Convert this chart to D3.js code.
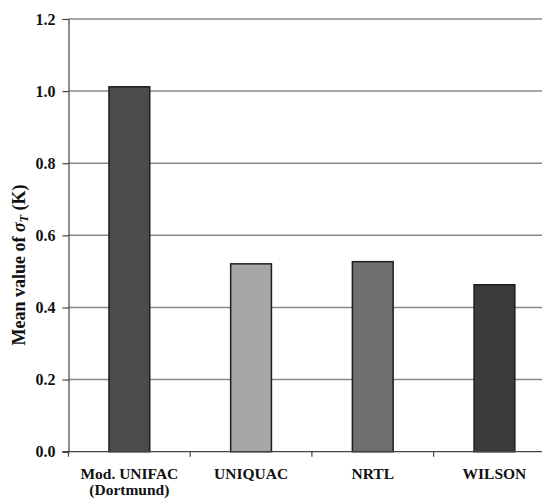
<!DOCTYPE html>
<html>
<head>
<meta charset="utf-8">
<script src="https://cdn.jsdelivr.net/npm/d3@7"></script>
<style>
  html, body { margin: 0; padding: 0; background: #fff; }
  svg { display: block; }
</style>
</head>
<body>
<svg id="chart" width="542" height="499"></svg>
<script>
// Mean temperature deviation per thermodynamic model
const models = ["Mod. UNIFAC|(Dortmund)", "UNIQUAC", "NRTL", "WILSON"];
const meanSigmaT = [1.012, 0.521, 0.527, 0.463];
const barColors = ["#4b4b4b", "#a7a7a7", "#6f6f6f", "#3b3b3b"];
const yTicks = [0.0, 0.2, 0.4, 0.6, 0.8, 1.0, 1.2];

const FONT = "'Liberation Serif', 'Times New Roman', serif";
const svg = d3.select("#chart");
const plotLeft = 68.5, plotTop = 19, plotBottom = 451.7;
const bandW = 121.7;

const x = d3.scaleBand()
  .domain(models)
  .range([plotLeft, plotLeft + bandW * models.length])
  .paddingInner(0.665)
  .paddingOuter(0.3325);

const y = d3.scaleLinear().domain([0, 1.2]).range([plotBottom, plotTop]);

// horizontal gridlines
svg.append("g")
  .selectAll("line")
  .data(yTicks.filter(d => d > 0))
  .join("line")
  .attr("x1", plotLeft).attr("x2", 542)
  .attr("y1", d => y(d)).attr("y2", d => y(d))
  .attr("stroke", "#888").attr("stroke-width", 1.5);

// bars
svg.append("g")
  .selectAll("rect")
  .data(models)
  .join("rect")
  .attr("x", d => x(d))
  .attr("width", x.bandwidth())
  .attr("y", (d, i) => y(meanSigmaT[i]))
  .attr("height", (d, i) => plotBottom - y(meanSigmaT[i]))
  .attr("fill", (d, i) => barColors[i])
  .attr("stroke", "#1e1e1e").attr("stroke-width", 1.5);

// y axis
const yAxis = svg.append("g")
  .attr("transform", `translate(${plotLeft},0)`)
  .call(d3.axisLeft(y).tickValues(yTicks).tickFormat(d3.format(".1f")).tickSize(6).tickPadding(7));
yAxis.select(".domain").attr("stroke", "#444").attr("stroke-width", 1.2);
yAxis.selectAll(".tick line").attr("stroke", "#444").attr("stroke-width", 1.2);
yAxis.selectAll(".tick text")
  .style("font-family", FONT)
  .style("font-weight", "bold").style("font-size", "16px").attr("fill", "#111");

// x axis: ticks at band boundaries
const xAxisG = svg.append("g").attr("transform", `translate(0,${plotBottom})`);
xAxisG.append("line")
  .attr("x1", plotLeft - 6).attr("x2", 542)
  .attr("stroke", "#444").attr("stroke-width", 1.2);
xAxisG.selectAll("line.tk")
  .data(d3.range(models.length + 1))
  .join("line").attr("class", "tk")
  .attr("x1", i => plotLeft + i * bandW).attr("x2", i => plotLeft + i * bandW)
  .attr("y1", 0).attr("y2", 5)
  .attr("stroke", "#444").attr("stroke-width", 1.2);

// category labels
const labels = svg.append("g").selectAll("text")
  .data(models)
  .join("text")
  .attr("text-anchor", "middle")
  .attr("x", d => x(d) + x.bandwidth() / 2)
  .attr("y", 479)
  .style("font-family", FONT).style("font-weight", "bold")
  .style("font-size", "15.5px").attr("fill", "#111");
labels.each(function(d) {
  const parts = d.split("|");
  const t = d3.select(this);
  parts.forEach((p, k) => {
    t.append("tspan")
      .attr("x", x(d) + x.bandwidth() / 2)
      .attr("dy", k === 0 ? 0 : 16)
      .text(p);
  });
});

// y axis title
const yTitle = svg.append("text")
  .attr("transform", "translate(25,265) rotate(-90)")
  .attr("text-anchor", "middle")
  .style("font-family", FONT).style("font-weight", "bold")
  .style("font-size", "18px").attr("fill", "#111");
yTitle.append("tspan").text("Mean value of ");
yTitle.append("tspan").style("font-style", "italic").text("σ");
yTitle.append("tspan").style("font-style", "italic").style("font-size", "12px").attr("dy", 3).text("T");
yTitle.append("tspan").attr("dy", -3).text(" (K)");
</script>
</body>
</html>
